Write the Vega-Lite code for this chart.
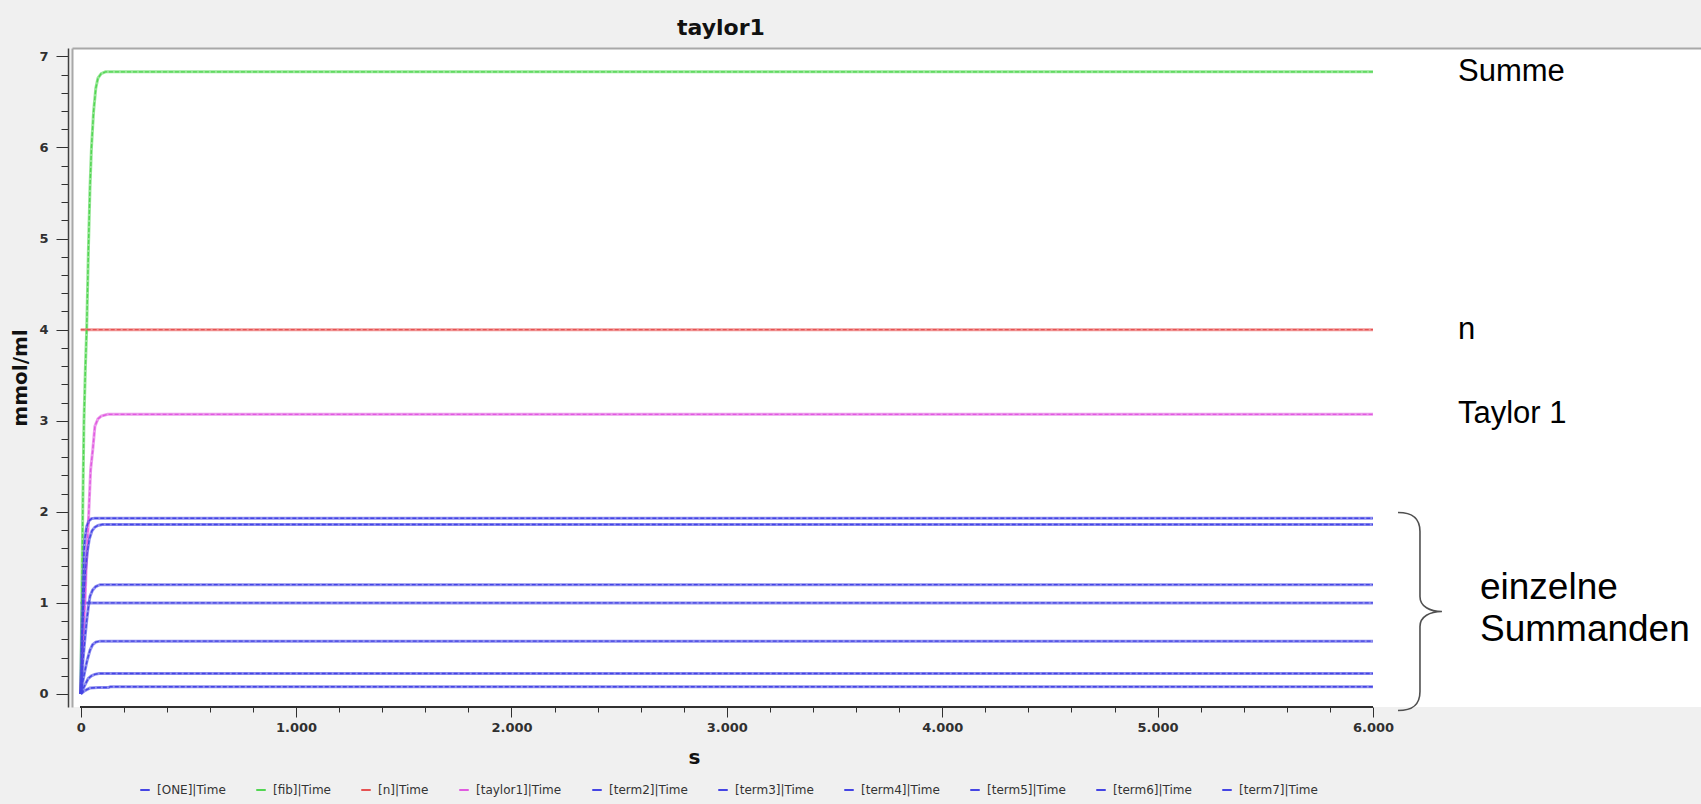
{
  "$schema": "https://vega.github.io/schema/vega-lite/v6.json",
  "width": 1629,
  "height": 659,
  "autosize": {"type": "none"},
  "padding": {"left": 72, "top": 48, "right": 0, "bottom": 97},
  "background": "#f0f0f0",
  "config": {
    "locale": {"number": {"decimal": ",", "thousands": ".", "grouping": [3], "currency": ["", " €"]}},
    "view": {"fill": "white", "stroke": null},
    "font": "DejaVu Sans"
  },
  "title": {"text": "taylor1", "anchor": "start", "dx": 667, "offset": 8, "fontSize": 22, "fontWeight": "bold", "font": "DejaVu Sans", "color": "#111111"},
  "datasets": {
    "series": [
      {"series": "[ONE]|Time", "t": 0, "value": 1},
      {"series": "[ONE]|Time", "t": 6000, "value": 1},
      {"series": "[fib]|Time", "t": 0, "value": 0},
      {"series": "[fib]|Time", "t": 5, "value": 1.0},
      {"series": "[fib]|Time", "t": 10, "value": 2.1},
      {"series": "[fib]|Time", "t": 15, "value": 2.98},
      {"series": "[fib]|Time", "t": 22, "value": 3.6},
      {"series": "[fib]|Time", "t": 28, "value": 4.02},
      {"series": "[fib]|Time", "t": 36, "value": 4.9},
      {"series": "[fib]|Time", "t": 43, "value": 5.55},
      {"series": "[fib]|Time", "t": 50, "value": 6.0},
      {"series": "[fib]|Time", "t": 60, "value": 6.4},
      {"series": "[fib]|Time", "t": 70, "value": 6.65},
      {"series": "[fib]|Time", "t": 80, "value": 6.76},
      {"series": "[fib]|Time", "t": 95, "value": 6.81},
      {"series": "[fib]|Time", "t": 115, "value": 6.83},
      {"series": "[fib]|Time", "t": 6000, "value": 6.83},
      {"series": "[n]|Time", "t": 0, "value": 4},
      {"series": "[n]|Time", "t": 6000, "value": 4},
      {"series": "[taylor1]|Time", "t": 0, "value": 0},
      {"series": "[taylor1]|Time", "t": 8, "value": 0.45},
      {"series": "[taylor1]|Time", "t": 15, "value": 0.8},
      {"series": "[taylor1]|Time", "t": 20, "value": 1.0},
      {"series": "[taylor1]|Time", "t": 25, "value": 1.36},
      {"series": "[taylor1]|Time", "t": 36, "value": 1.91},
      {"series": "[taylor1]|Time", "t": 46, "value": 2.46},
      {"series": "[taylor1]|Time", "t": 56, "value": 2.68},
      {"series": "[taylor1]|Time", "t": 66, "value": 2.94},
      {"series": "[taylor1]|Time", "t": 80, "value": 3.02},
      {"series": "[taylor1]|Time", "t": 95, "value": 3.05},
      {"series": "[taylor1]|Time", "t": 125, "value": 3.07},
      {"series": "[taylor1]|Time", "t": 6000, "value": 3.07},
      {"series": "[term2]|Time", "t": 0, "value": 0},
      {"series": "[term2]|Time", "t": 5, "value": 0.7},
      {"series": "[term2]|Time", "t": 10, "value": 1.2},
      {"series": "[term2]|Time", "t": 15, "value": 1.55},
      {"series": "[term2]|Time", "t": 20, "value": 1.72},
      {"series": "[term2]|Time", "t": 28, "value": 1.84},
      {"series": "[term2]|Time", "t": 38, "value": 1.9},
      {"series": "[term2]|Time", "t": 50, "value": 1.925},
      {"series": "[term2]|Time", "t": 65, "value": 1.93},
      {"series": "[term2]|Time", "t": 6000, "value": 1.93},
      {"series": "[term3]|Time", "t": 0, "value": 0},
      {"series": "[term3]|Time", "t": 8, "value": 0.6},
      {"series": "[term3]|Time", "t": 15, "value": 1.05},
      {"series": "[term3]|Time", "t": 22, "value": 1.35},
      {"series": "[term3]|Time", "t": 30, "value": 1.55},
      {"series": "[term3]|Time", "t": 40, "value": 1.7},
      {"series": "[term3]|Time", "t": 52, "value": 1.79},
      {"series": "[term3]|Time", "t": 65, "value": 1.83},
      {"series": "[term3]|Time", "t": 80, "value": 1.85},
      {"series": "[term3]|Time", "t": 100, "value": 1.86},
      {"series": "[term3]|Time", "t": 6000, "value": 1.86},
      {"series": "[term4]|Time", "t": 0, "value": 0},
      {"series": "[term4]|Time", "t": 10, "value": 0.35},
      {"series": "[term4]|Time", "t": 20, "value": 0.62},
      {"series": "[term4]|Time", "t": 28, "value": 0.81},
      {"series": "[term4]|Time", "t": 36, "value": 0.96},
      {"series": "[term4]|Time", "t": 43, "value": 1.07},
      {"series": "[term4]|Time", "t": 55, "value": 1.14},
      {"series": "[term4]|Time", "t": 70, "value": 1.18},
      {"series": "[term4]|Time", "t": 90, "value": 1.2},
      {"series": "[term4]|Time", "t": 6000, "value": 1.2},
      {"series": "[term5]|Time", "t": 0, "value": 0},
      {"series": "[term5]|Time", "t": 10, "value": 0.14},
      {"series": "[term5]|Time", "t": 20, "value": 0.26},
      {"series": "[term5]|Time", "t": 30, "value": 0.37},
      {"series": "[term5]|Time", "t": 43, "value": 0.48},
      {"series": "[term5]|Time", "t": 55, "value": 0.54},
      {"series": "[term5]|Time", "t": 70, "value": 0.57},
      {"series": "[term5]|Time", "t": 90, "value": 0.58},
      {"series": "[term5]|Time", "t": 6000, "value": 0.58},
      {"series": "[term6]|Time", "t": 0, "value": 0},
      {"series": "[term6]|Time", "t": 10, "value": 0.05},
      {"series": "[term6]|Time", "t": 20, "value": 0.1},
      {"series": "[term6]|Time", "t": 35, "value": 0.17},
      {"series": "[term6]|Time", "t": 50, "value": 0.2},
      {"series": "[term6]|Time", "t": 65, "value": 0.215},
      {"series": "[term6]|Time", "t": 85, "value": 0.225},
      {"series": "[term6]|Time", "t": 6000, "value": 0.225},
      {"series": "[term7]|Time", "t": 0, "value": 0},
      {"series": "[term7]|Time", "t": 15, "value": 0.03},
      {"series": "[term7]|Time", "t": 30, "value": 0.05},
      {"series": "[term7]|Time", "t": 43, "value": 0.065},
      {"series": "[term7]|Time", "t": 80, "value": 0.07},
      {"series": "[term7]|Time", "t": 130, "value": 0.072},
      {"series": "[term7]|Time", "t": 138, "value": 0.08},
      {"series": "[term7]|Time", "t": 6000, "value": 0.08}
    ],
    "notes": [
      {"note": "Summe", "value": 6.83},
      {"note": "n", "value": 4},
      {"note": "Taylor 1", "value": 3.07}
    ],
    "group": [
      {"note": "einzelne\nSummanden", "value": 0.96}
    ]
  },
  "resolve": {"axis": {"x": "independent", "y": "independent"}},
  "layer": [
    {
      "data": {"name": "series"},
      "mark": {"type": "line", "strokeWidth": 3, "opacity": 0.6},
      "encoding": {
        "x": {
          "field": "t", "type": "quantitative",
          "scale": {"domain": [-40.4, 7523], "nice": false, "zero": false},
          "axis": {
            "orient": "bottom",
            "values": [0, 200, 400, 600, 800, 1000, 1200, 1400, 1600, 1800, 2000, 2200, 2400, 2600, 2800, 3000, 3200, 3400, 3600, 3800, 4000, 4200, 4400, 4600, 4800, 5000, 5200, 5400, 5600, 5800, 6000],
            "tickCount": 200,
            "format": ",.0f",
            "labelExpr": "datum.value % 1000 === 0 ? datum.label : ''",
            "tickSize": {"condition": {"test": "datum.value % 1000 === 0", "value": 10}, "value": 5},
            "domain": false, "grid": false,
            "tickColor": "#303030", "labelColor": "#303030",
            "labelFont": "DejaVu Sans", "labelFontSize": 13, "labelFontWeight": "bold",
            "labelPadding": 4, "labelOverlap": false, "labelFlush": false,
            "title": "s", "titleFont": "DejaVu Sans", "titleFontSize": 20, "titleFontWeight": "bold", "titleColor": "#111111",
            "titleX": 622, "titleY": 50, "titleBaseline": "middle"
          }
        },
        "y": {
          "field": "value", "type": "quantitative",
          "scale": {"domain": [-0.143, 7.092], "nice": false, "zero": false},
          "axis": {
            "orient": "left",
            "values": [0, 0.2, 0.4, 0.6, 0.8, 1, 1.2, 1.4, 1.6, 1.8, 2, 2.2, 2.4, 2.6, 2.8, 3, 3.2, 3.4, 3.6, 3.8, 4, 4.2, 4.4, 4.6, 4.8, 5, 5.2, 5.4, 5.6, 5.8, 6, 6.2, 6.4, 6.6, 6.8, 7],
            "tickCount": 200,
            "labelExpr": "datum.value % 1 === 0 ? format(datum.value, 'd') : ''",
            "tickSize": {"condition": {"test": "datum.value % 1 === 0", "value": 12}, "value": 7},
            "offset": 4, "domain": true, "domainColor": "#404040", "domainWidth": 1.5,
            "grid": false, "tickColor": "#303030", "labelColor": "#303030",
            "labelFont": "DejaVu Sans", "labelFontSize": 13, "labelFontWeight": "bold",
            "labelPadding": 8, "labelOverlap": false, "labelFlush": false,
            "title": "mmol/ml", "titleFont": "DejaVu Sans", "titleFontSize": 20, "titleFontWeight": "bold", "titleColor": "#111111",
            "titleX": -48, "titleBaseline": "middle"
          }
        },
        "color": {
          "field": "series", "type": "nominal",
          "scale": {
            "domain": ["[ONE]|Time", "[fib]|Time", "[n]|Time", "[taylor1]|Time", "[term2]|Time", "[term3]|Time", "[term4]|Time", "[term5]|Time", "[term6]|Time", "[term7]|Time"],
            "range": ["#4444e4", "#52d652", "#e65252", "#e05ae0", "#4444e4", "#4444e4", "#4444e4", "#4444e4", "#4444e4", "#4444e4"]
          },
          "legend": {
            "title": null, "orient": "none", "legendX": 67, "legendY": 736,
            "direction": "horizontal", "columns": 10, "columnPadding": 26,
            "symbolType": "stroke", "symbolSize": 90, "symbolStrokeWidth": 2, "symbolDash": [100, 0], "symbolOpacity": 1,
            "labelFont": "DejaVu Sans", "labelFontSize": 12, "labelColor": "#333333", "labelOffset": 6
          }
        }
      }
    },
    {
      "data": {"name": "series"},
      "mark": {"type": "line", "strokeWidth": 1.4, "strokeDash": [4, 2]},
      "encoding": {
        "x": {
          "field": "t", "type": "quantitative",
          "axis": {"orient": "top", "domain": true, "domainColor": "#a8a8a8", "domainWidth": 2, "ticks": false, "labels": false, "grid": false, "title": null}
        },
        "y": {
          "field": "value", "type": "quantitative",
          "axis": {"orient": "left", "offset": 0, "domain": true, "domainColor": "#a8a8a8", "domainWidth": 2, "ticks": false, "labels": false, "grid": false, "title": null}
        },
        "color": {"field": "series", "type": "nominal"}
      }
    },
    {
      "data": {"name": "series"},
      "mark": {"type": "rule", "color": "#303030", "strokeWidth": 1},
      "encoding": {
        "x": {"datum": 0, "axis": null},
        "x2": {"datum": 6000},
        "y": {"datum": -0.143, "axis": null}
      }
    },
    {
      "data": {"name": "notes"},
      "mark": {"type": "text", "align": "left", "baseline": "middle", "dx": 85, "font": "Liberation Sans", "fontSize": 31, "color": "#000000"},
      "encoding": {
        "x": {"datum": 6000, "axis": null},
        "y": {"field": "value", "type": "quantitative", "axis": null},
        "text": {"field": "note"}
      }
    },
    {
      "data": {"name": "group"},
      "mark": {"type": "text", "align": "left", "baseline": "middle", "dx": 107, "dy": -19, "lineBreak": "\n", "lineHeight": 42, "font": "Liberation Sans", "fontSize": 37, "color": "#000000"},
      "encoding": {
        "x": {"datum": 6000, "axis": null},
        "y": {"field": "value", "type": "quantitative", "axis": null},
        "text": {"field": "note"}
      }
    },
    {
      "data": {"name": "group"},
      "mark": {
        "type": "point", "filled": false, "stroke": "#505050", "strokeWidth": 1.6, "opacity": 1, "xOffset": 47, "yOffset": 5,
        "shape": "M -0.222 -1 C -0.081 -1 0 -0.949 0 -0.808 L 0 -0.152 C 0 -0.05 0.101 0 0.222 0 C 0.101 0 0 0.05 0 0.152 L 0 0.808 C 0 0.949 -0.081 1 -0.222 1",
        "size": 39204
      },
      "encoding": {
        "x": {"datum": 6000, "axis": null},
        "y": {"field": "value", "type": "quantitative", "axis": null}
      }
    }
  ]
}
